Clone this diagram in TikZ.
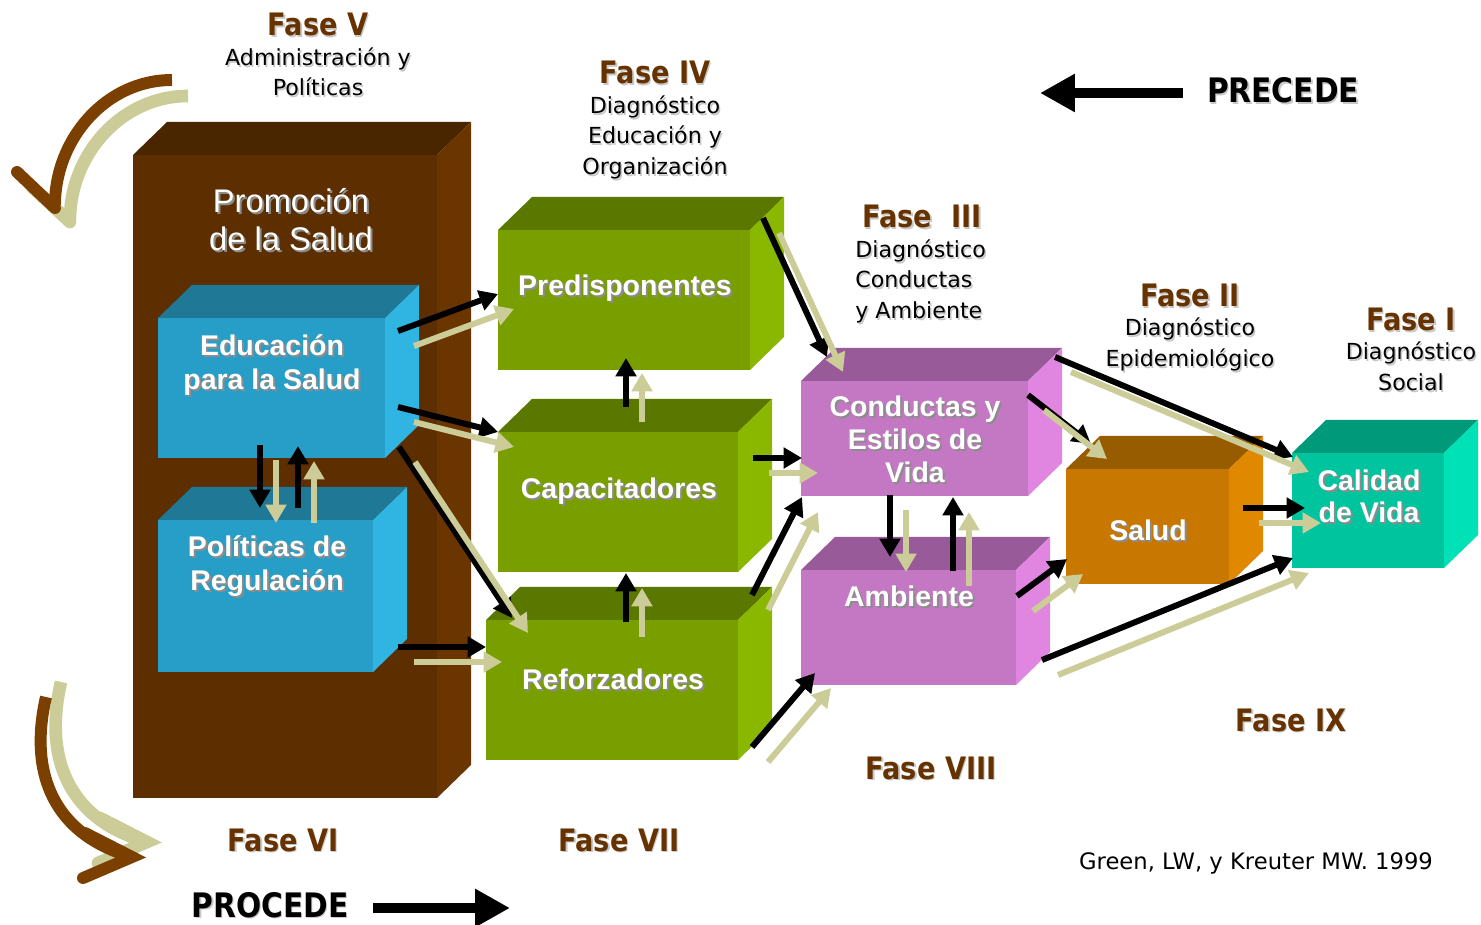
\documentclass[tikz,border=0pt]{standalone}
\usepackage{fontspec}
\setmainfont{DejaVu Sans}
\newfontfamily\fasef{DejaVu Sans}[FakeStretch=0.88]
\newfontfamily\arialf{Liberation Sans}
\usetikzlibrary{arrows.meta,calc,fit}
\definecolor{faseC}{HTML}{663300}
\definecolor{kha}{HTML}{CCCC99}
\definecolor{brn}{HTML}{7B3F00}
\definecolor{prF}{HTML}{5C2E00}\definecolor{prT}{HTML}{4A2600}\definecolor{prS}{HTML}{6B3500}
\definecolor{blF}{HTML}{269EC8}\definecolor{blT}{HTML}{1E7896}\definecolor{blS}{HTML}{30B4E2}
\definecolor{grF}{HTML}{789E00}\definecolor{grT}{HTML}{5A7800}\definecolor{grS}{HTML}{8AB800}
\definecolor{puF}{HTML}{C478C4}\definecolor{puT}{HTML}{985A98}\definecolor{puS}{HTML}{E086E0}
\definecolor{orF}{HTML}{C87800}\definecolor{orT}{HTML}{985C00}\definecolor{orS}{HTML}{E08800}
\definecolor{tlF}{HTML}{00C49E}\definecolor{tlT}{HTML}{009A7A}\definecolor{tlS}{HTML}{00E2B6}
\definecolor{shd}{HTML}{8C8C8C}
\definecolor{shlc}{HTML}{C8C8C8}
\tikzset{
 blk/.style={draw=black, line width=3.4pt, -{Triangle[length=10.5pt,width=11.5pt]}},
 khk/.style={draw=kha, line width=3.4pt, -{Triangle[length=10.5pt,width=11.5pt]}},
 fasel/.style={font=\fasef\bfseries\fontsize{17.6}{20}\selectfont, text=faseC, anchor=base, inner sep=0pt},
 desc/.style={font=\fontsize{12.6}{15}\selectfont, anchor=base, inner sep=0pt},
 boxt/.style={font=\arialf\bfseries\fontsize{16.2}{19.3}\selectfont, text=white, align=center, inner sep=0pt},
 bigl/.style={font=\fasef\bfseries\fontsize{19.2}{22}\selectfont, anchor=base, inner sep=0pt},
 bigarr/.style={line width=6.2pt, -{Triangle[length=19.8pt,width=20.4pt]}},
 curvb/.style={draw=brn, line width=6.8pt},
 curvk/.style={draw=kha, line width=7.2pt},
 shadowd/.style={text=shd, shift={(2,2)}},
 shadowl/.style={text=shlc, shift={(1.5,1.5)}},
}
\newcommand\mkcube[6]{%
 \node[fit={#2 #3}, inner sep=0pt, outer sep=0pt, fill=#4] (#1) {};
 \fill[#5] (#1.north west) -- ++(34,-33) -- ($(#1.north east)+(34,-33)$) -- (#1.north east) -- cycle;
 \fill[#6] (#1.north east) -- ++(34,-33) -- ($(#1.south east)+(34,-33)$) -- (#1.south east) -- cycle;
}
\newcommand\pairarr[4]{%
 \draw[blk] ($(#1)+(#2)$) -- ($(#3)+(#4)$);
 \draw[khk] ($(#1)+(#2)+(16,15)$) -- ($(#3)+(#4)+(16,15)$);
}
\newcommand\shtxt[5]{%
 \node[#2,#4] (#1s) at #3 {#5};
 \node[#2] (#1) at #3 {#5};
}
\begin{document}
\begin{tikzpicture}[x=0.02cm,y=-0.02cm]
\useasboundingbox (0,0) rectangle (1481,925);
\fill[white] (0,0) rectangle (1481,925);

% curved arrows
\coordinate (tlk0) at (188,96); \coordinate (tlk1) at (70,220);
\coordinate (tlb0) at (172,80); \coordinate (tlb1) at (55,205);
\draw[curvk] (tlk0) .. controls (122,96) and (70,154) .. (tlk1);
\draw[curvk, line cap=round] (32,187) -- (70,222);
\draw[curvb] (tlb0) .. controls (106,80) and (55,139) .. (tlb1);
\draw[curvb, line cap=round] (17,172) -- (55,208);

\coordinate (blk0) at (61,682); \coordinate (blk1) at (147,842);
\coordinate (blb0) at (46,697); \coordinate (blb1) at (132,857);
\draw[curvk] (blk0) .. controls (43,760) and (70,820) .. (blk1);
\draw[curvk, line cap=round] (100,818) -- (147,842) -- (98,863);
\draw[curvb] (blb0) .. controls (28,775) and (55,835) .. (blb1);
\draw[curvb, line cap=round] (85,833) -- (132,857) -- (83,878);

% cubes
\mkcube{prom}{(133,155)}{(437,798)}{prF}{prT}{prS}
\mkcube{edu}{(158,318)}{(385,458)}{blF}{blT}{blS}
\mkcube{pol}{(158,520)}{(373,672)}{blF}{blT}{blS}
\mkcube{pred}{(498,230)}{(750,370)}{grF}{grT}{grS}
\mkcube{cap}{(498,432)}{(738,572)}{grF}{grT}{grS}
\mkcube{ref}{(486,620)}{(738,760)}{grF}{grT}{grS}
\mkcube{cond}{(801,381)}{(1028,496)}{puF}{puT}{puS}
\mkcube{amb}{(801,570)}{(1016,685)}{puF}{puT}{puS}
\mkcube{salud}{(1066,469)}{(1229,584)}{orF}{orT}{orS}
\mkcube{cal}{(1292,453)}{(1444,568)}{tlF}{tlT}{tlS}

% box texts
\shtxt{tprom}{boxt, font=\arialf\fontsize{18.6}{21.5}\selectfont}{(291,220)}{shadowd}{Promoción\\de la Salud}
\shtxt{tedu}{boxt}{(272,365)}{shadowd}{Educación\\para la Salud}
\shtxt{tpol}{boxt, font=\arialf\bfseries\fontsize{16.2}{19.8}\selectfont}{(267,566)}{shadowd}{Políticas de\\Regulación}
\shtxt{tpred}{boxt}{(625,288)}{shadowd}{Predisponentes}
\shtxt{tcap}{boxt}{(619,491)}{shadowd}{Capacitadores}
\shtxt{tref}{boxt}{(613,679)}{shadowd}{Reforzadores}
\shtxt{tcond}{boxt, font=\arialf\bfseries\fontsize{16.2}{18.7}\selectfont}{(915,439)}{shadowd}{Conductas y\\Estilos de\\Vida}
\shtxt{tamb}{boxt}{(909,596)}{shadowd}{Ambiente}
\shtxt{tsalud}{boxt}{(1148,530)}{shadowd}{Salud}
\shtxt{tcal}{boxt, font=\arialf\bfseries\fontsize{16.2}{18.1}\selectfont}{(1369,496)}{shadowd}{Calidad\\de Vida}

% connector pairs
\pairarr{edu.north west}{240,13}{pred.north west}{0,64}
\pairarr{edu.north west}{240,89}{cap.north west}{0,0}
\pairarr{edu.north west}{241,129}{ref.north west}{26,-2}
\pairarr{pol.north west}{240,127}{ref.north west}{0,27}
\pairarr{edu.north west}{102,127}{pol.north west}{102,-12}
\pairarr{pol.north west}{140,-12}{edu.north west}{140,128}
\pairarr{cap.north west}{128,-25}{pred.north west}{128,128}
\pairarr{ref.north west}{140,2}{cap.north west}{128,141}
\pairarr{pred.north west}{265,-12}{cond.north west}{26,-24}
\pairarr{cap.north west}{255,26}{cond.north west}{1,77}
\pairarr{ref.north west}{266,-25}{cond.north west}{1,116}
\pairarr{ref.north west}{266,127}{amb.north west}{14,103}
\pairarr{cond.north west}{89,114}{amb.north west}{89,-13}
\pairarr{amb.north west}{152,1}{cond.north west}{152,116}
\pairarr{cond.north west}{227,14}{salud.north west}{25,-25}
\pairarr{cond.north west}{254,-24}{cal.north west}{1,4}
\pairarr{amb.north west}{216,26}{salud.north west}{1,90}
\pairarr{amb.north west}{241,90}{cal.north west}{1,105}
\pairarr{salud.north west}{177,39}{cal.north west}{13,55}

% phase labels
\shtxt{f5}{fasel}{(318,36)}{shadowl}{Fase V}
\shtxt{f4}{fasel}{(655,84)}{shadowl}{Fase IV}
\shtxt{f3}{fasel}{(922,228)}{shadowl}{Fase~~III}
\shtxt{f2}{fasel}{(1190,307)}{shadowl}{Fase II}
\shtxt{f1}{fasel}{(1411,331)}{shadowl}{Fase I}
\shtxt{f9}{fasel}{(1291,731)}{shadowl}{Fase IX}
\shtxt{f8}{fasel}{(931,779)}{shadowl}{Fase VIII}
\shtxt{f7}{fasel}{(619,851)}{shadowl}{Fase VII}
\shtxt{f6}{fasel}{(283,851)}{shadowl}{Fase VI}

% descriptions
\shtxt{d5a}{desc}{(318,66)}{shadowl}{Administración y}
\shtxt{d5b}{desc}{(318,96)}{shadowl}{Políticas}
\shtxt{d4a}{desc}{(655,114)}{shadowl}{Diagnóstico}
\shtxt{d4b}{desc}{(655,144)}{shadowl}{Educación y}
\shtxt{d4c}{desc}{(655,175)}{shadowl}{Organización}
\shtxt{d3a}{desc, anchor=base west}{(855,258)}{shadowl}{Diagnóstico}
\shtxt{d3b}{desc, anchor=base west}{(855,288)}{shadowl}{Conductas}
\shtxt{d3c}{desc, anchor=base west}{(855,319)}{shadowl}{y Ambiente}
\shtxt{d2a}{desc}{(1190,336)}{shadowl}{Diagnóstico}
\shtxt{d2b}{desc}{(1190,367)}{shadowl}{Epidemiológico}
\shtxt{d1a}{desc}{(1411,360)}{shadowl}{Diagnóstico}
\shtxt{d1b}{desc}{(1411,391)}{shadowl}{Social}
\node[desc, font=\fontsize{12.9}{15}\selectfont] (cite) at (1256,869) {Green, LW, y Kreuter MW. 1999};

% PRECEDE / PROCEDE
\shtxt{precede}{bigl}{(1283,103)}{shadowl}{PRECEDE}
\shtxt{procede}{bigl}{(270,917)}{shadowl}{PROCEDE}
\coordinate (prc0) at (1183,93); \coordinate (prc1) at (1040,93);
\draw[bigarr] (prc0) -- (prc1);
\coordinate (pro0) at (373,908); \coordinate (pro1) at (510,908);
\draw[bigarr] (pro0) -- (pro1);
\end{tikzpicture}
\end{document}
